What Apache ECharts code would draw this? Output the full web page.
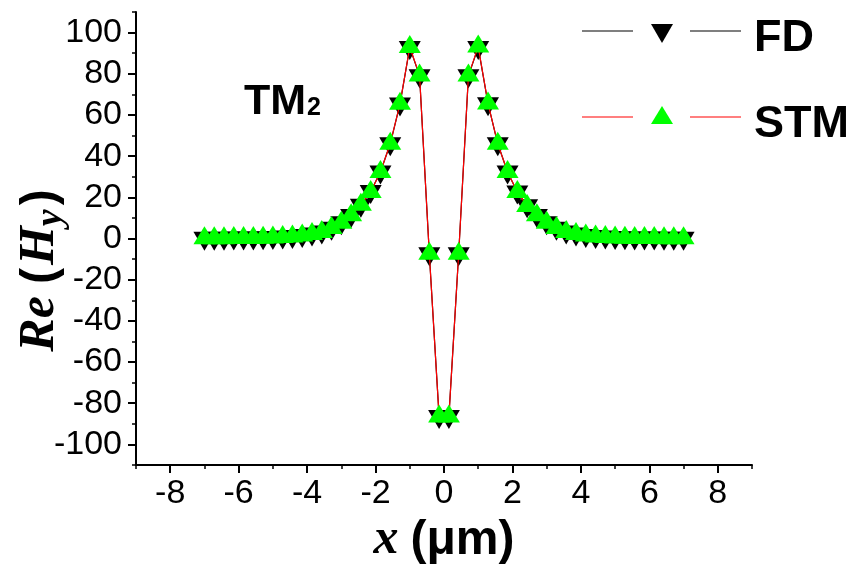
<!DOCTYPE html>
<html>
<head>
<meta charset="utf-8">
<script src="https://cdn.jsdelivr.net/npm/echarts@6/dist/echarts.min.js"></script>
<style>
  html, body { margin: 0; padding: 0; background: #ffffff; }
  #chart { width: 853px; height: 572px; }
</style>
</head>
<body>
<div id="chart"></div>
<script>
// Sample positions across the waveguide (µm)
const xPositions = [
  -7, -6.714, -6.429, -6.143, -5.857, -5.571, -5.286, -5, -4.714, -4.429,
  -4.143, -3.857, -3.571, -3.286, -3, -2.714, -2.429, -2.143, -1.857, -1.571,
  -1.286, -1, -0.714, -0.429, -0.143,
  0.143, 0.429, 0.714, 1, 1.286, 1.571, 1.857, 2.143, 2.429, 2.714,
  3, 3.286, 3.571, 3.857, 4.143, 4.429, 4.714, 5, 5.286, 5.571,
  5.857, 6.143, 6.429, 6.714, 7
];

// Re(Hy) from the finite-difference solver
const fdValues = [
  0.1, 0.1, 0.1, 0.2, 0.2, 0.3, 0.4, 0.5, 0.7, 1.0,
  1.5, 2.2, 3.2, 5.0, 7.6, 11.2, 16.2, 22.8, 32.3, 46.0,
  65.3, 92.8, 79.0, -7.4, -86.5,
  -86.5, -7.4, 79.0, 92.8, 65.5, 46.0, 32.3, 22.6, 15.9, 11.2,
  7.6, 5.0, 3.2, 2.2, 1.5, 1.0, 0.7, 0.5, 0.4, 0.3,
  0.2, 0.2, 0.1, 0.1, 0.1
];

// Re(Hy) from the STM solver
const stmValues = [
  0.1, 0.1, 0.1, 0.2, 0.2, 0.3, 0.4, 0.5, 0.7, 1.0,
  1.5, 2.2, 3.2, 5.1, 7.7, 11.3, 16.4, 22.6, 32.3, 46.0,
  65.4, 93.0, 79.2, -7.4, -86.5,
  -86.5, -7.4, 79.2, 93.2, 65.6, 46.0, 32.3, 22.6, 15.8, 11.3,
  7.7, 5.1, 3.2, 2.2, 1.5, 1.0, 0.7, 0.5, 0.4, 0.3,
  0.2, 0.2, 0.1, 0.1, 0.1
];

const xTickLabels = [-8, -6, -4, -2, 0, 2, 4, 6, 8];
const yTickLabels = [-100, -80, -60, -40, -20, 0, 20, 40, 60, 80, 100];
const seriesNames = ['FD', 'STM'];
const modeLabel = 'TM';
const modeIndex = '2';

const pairs = (xs, ys) => xs.map((x, i) => [x, ys[i]]);

const SANS = 'Liberation Sans, Arial, sans-serif';
const SERIF = 'Liberation Serif, Times New Roman, serif';
const AXIS_COLOR = '#000000';

const labelFont = { color: '#000', fontFamily: SANS, fontSize: 34 };

const chart = echarts.init(document.getElementById('chart'), null, { renderer: 'canvas' });

const downTriangle = 'path://M0,0L2,0L1,2Z';

chart.setOption({
  animation: false,
  backgroundColor: '#ffffff',
  grid: { left: 136, right: 101, top: 12, bottom: 107, containLabel: false, outerBoundsMode: 'none' },
  xAxis: [
    {
      // minor ticks every 1 µm
      type: 'value', min: -9, max: 9, interval: 1,
      axisLine: { show: true, onZero: false, lineStyle: { color: AXIS_COLOR, width: 2 } },
      axisTick: { show: true, length: 4, lineStyle: { color: AXIS_COLOR, width: 1.5 } },
      axisLabel: { show: false },
      splitLine: { show: false }
    },
    {
      // labelled major ticks
      type: 'value', min: -9, max: 9, position: 'bottom', offset: 0,
      axisLine: { show: false, onZero: false },
      axisTick: { show: true, length: 8, customValues: xTickLabels, lineStyle: { color: AXIS_COLOR, width: 2 } },
      axisLabel: Object.assign({ show: true, margin: 12, customValues: xTickLabels }, labelFont),
      splitLine: { show: false },
      name: '{it|x}{p|(\u03bcm)}',
      nameLocation: 'middle',
      nameGap: 50,
      nameMoveOverlap: false,
      nameTextStyle: {
        rich: {
          it: { fontFamily: SERIF, fontStyle: 'italic', fontWeight: 'bold', fontSize: 50, color: '#000', verticalAlign: 'bottom', padding: [0, 12, 0, 0] },
          p: { fontFamily: SANS, fontWeight: 'bold', fontSize: 48, color: '#000', verticalAlign: 'bottom' }
        }
      }
    }
  ],
  yAxis: [
    {
      type: 'value', min: -110, max: 110, interval: 10, position: 'left',
      axisLine: { show: true, onZero: false, lineStyle: { color: AXIS_COLOR, width: 2 } },
      axisTick: { show: true, length: 4, lineStyle: { color: AXIS_COLOR, width: 1.5 } },
      axisLabel: { show: false },
      splitLine: { show: false }
    },
    {
      type: 'value', min: -110, max: 110, position: 'left', offset: 0,
      axisLine: { show: false, onZero: false },
      axisTick: { show: true, length: 8, customValues: yTickLabels, lineStyle: { color: AXIS_COLOR, width: 2 } },
      axisLabel: Object.assign({ show: true, margin: 14, customValues: yTickLabels }, labelFont),
      splitLine: { show: false },
      name: '{re|Re}{p|(}{it|H}{sub|y}{p|)}',
      nameLocation: 'middle',
      nameRotate: 90,
      nameGap: 66,
      nameMoveOverlap: false,
      nameTextStyle: {
        padding: [0, 64, 0, 0],
        rich: {
          re: { fontFamily: SERIF, fontStyle: 'italic', fontWeight: 'bold', fontSize: 50, color: '#000', verticalAlign: 'bottom', padding: [0, 12, 5, 0] },
          it: { fontFamily: SERIF, fontStyle: 'italic', fontWeight: 'bold', fontSize: 50, color: '#000', verticalAlign: 'bottom', padding: [0, 0, 5, 3] },
          p: { fontFamily: SANS, fontWeight: 'bold', fontSize: 48, color: '#000', verticalAlign: 'bottom', padding: [0, 0, 5, 0] },
          sub: { fontFamily: SERIF, fontStyle: 'italic', fontWeight: 'bold', fontSize: 38, color: '#000', verticalAlign: 'bottom', padding: [0, 4, 0, 0] }
        }
      }
    }
  ],
  series: [
    {
      name: seriesNames[0],
      type: 'line',
      xAxisIndex: 0, yAxisIndex: 0,
      data: pairs(xPositions, fdValues),
      showAllSymbol: true,
      symbol: downTriangle,
      symbolSize: [22, 19],
      symbolOffset: [0, 3],
      itemStyle: { color: '#000000' },
      lineStyle: { color: '#000000', width: 1.2 },
      z: 2
    },
    {
      name: seriesNames[1],
      type: 'line',
      xAxisIndex: 0, yAxisIndex: 0,
      data: pairs(xPositions, stmValues),
      showAllSymbol: true,
      symbol: 'triangle',
      symbolSize: [22, 18],
      symbolOffset: [0, -3],
      itemStyle: { color: '#00ff00' },
      lineStyle: { color: '#ff0000', width: 1.2 },
      z: 3
    }
  ],
  graphic: [
    // legend: FD
    { type: 'line', shape: { x1: 582, y1: 31, x2: 633, y2: 31 }, style: { stroke: '#000000', lineWidth: 1.2 } },
    { type: 'line', shape: { x1: 690, y1: 31, x2: 741, y2: 31 }, style: { stroke: '#000000', lineWidth: 1.2 } },
    { type: 'polygon', shape: { points: [[651, 24], [673, 24], [662, 43]] }, style: { fill: '#000' } },
    { type: 'text', x: 754, y: 39, style: { text: seriesNames[0], font: 'bold 45px ' + SANS, fill: '#000', verticalAlign: 'middle', align: 'left' } },
    // legend: STM
    { type: 'line', shape: { x1: 582, y1: 117, x2: 633, y2: 117 }, style: { stroke: '#ff0000', lineWidth: 1.2 } },
    { type: 'line', shape: { x1: 690, y1: 117, x2: 741, y2: 117 }, style: { stroke: '#ff0000', lineWidth: 1.2 } },
    { type: 'polygon', shape: { points: [[651, 124], [673, 124], [662, 106]] }, style: { fill: '#00ff00' } },
    { type: 'text', x: 754, y: 125, style: { text: seriesNames[1], font: 'bold 45px ' + SANS, fill: '#000', verticalAlign: 'middle', align: 'left' } },
    // mode label
    {
      type: 'text', x: 244, y: 102,
      style: {
        text: '{a|' + modeLabel + '}{b|' + modeIndex + '}',
        verticalAlign: 'middle', align: 'left',
        rich: {
          a: { fontFamily: SANS, fontWeight: 'bold', fontSize: 43, fill: '#000', verticalAlign: 'bottom' },
          b: { fontFamily: SANS, fontWeight: 'bold', fontSize: 25, fill: '#000', verticalAlign: 'bottom', padding: [0, 0, 3, 1] }
        }
      }
    }
  ]
});
</script>
</body>
</html>
